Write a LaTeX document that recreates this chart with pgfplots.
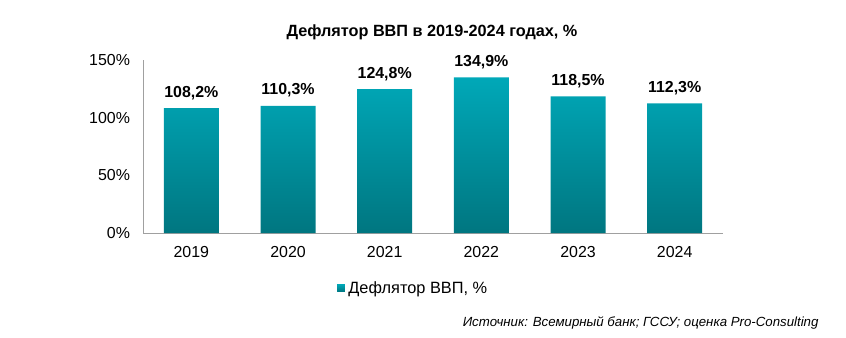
\documentclass[border=0pt]{standalone}
\usepackage{pgfplots}
\pgfplotsset{compat=1.18}
\usepackage{fontspec}
\setmainfont{Liberation Sans}
\definecolor{bartop}{RGB}{0,168,184}
\definecolor{barbot}{RGB}{0,118,128}
\definecolor{axgray}{RGB}{160,160,160}
\begin{document}
\begin{tikzpicture}[x=1bp,y=1bp]
\useasboundingbox (0,0) rectangle (846,337);
\begin{axis}[
  at={(143bp,104bp)}, anchor=south west,
  scale only axis, width=580bp, height=173bp,
  xmin=-0.5, xmax=5.5, ymin=0, ymax=150,
  xtick=data, xticklabels={2019,2020,2021,2022,2023,2024},
  ytick={0,50,100,150},
  yticklabel={\pgfmathprintnumber{\tick}\%},
  /pgf/number format/assume math mode=true,
  axis lines=left, axis line style={draw=axgray, -},
  major tick length=0pt,
  ticklabel style={font=\fontsize{16}{18}\selectfont},
  yticklabel style={xshift=-9.5bp},
  xticklabel style={yshift=-10bp},
  ybar, bar width=55bp,
  nodes near coords={\pgfmathprintnumber[fixed,fixed zerofill,precision=1,use comma]{\pgfplotspointmeta}\%},
  nodes near coords style={font=\bfseries\fontsize{16}{18}\selectfont, /pgf/number format/assume math mode=true, yshift=5bp},
  legend style={at={(rel axis cs:0.466,-0.318)}, anchor=center, draw=none, font=\fontsize{16.4}{18}\selectfont},
  legend image code/.code={\fill[bartop!75!barbot] (0bp,-3.75bp) rectangle (7.5bp,3.75bp); \path (0bp,0bp) -- (9bp,0bp);},
  clip=false,
]
\addplot[draw=none, shade, top color=bartop, bottom color=barbot] coordinates {(0,108.2) (1,110.3) (2,124.8) (3,134.9) (4,118.5) (5,112.3)};
\addlegendentry{Дефлятор ВВП, \%}
\end{axis}
\node[font=\bfseries\fontsize{16.3}{18}\selectfont] at (432,305) {Дефлятор ВВП в 2019-2024 годах, \%};
\node[font=\itshape\fontsize{13.3}{15}\selectfont, anchor=east] at (822,14) {Источник: Всемирный банк; ГССУ; оценка Pro-Consulting};
\end{tikzpicture}
\end{document}
